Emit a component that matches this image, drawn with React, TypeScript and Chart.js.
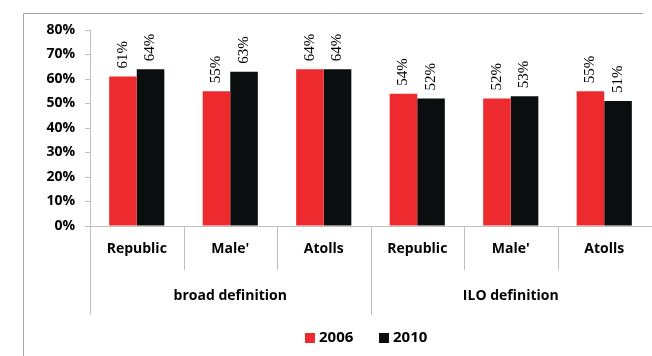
import React, { useEffect, useRef } from "react";
import { Chart, registerables } from "chart.js";

Chart.register(...registerables);

const categories = ["Republic", "Male'", "Atolls", "Republic", "Male'", "Atolls"];
const groups = ["broad definition", "ILO definition"];
const series2006 = [61, 55, 64, 54, 52, 55];
const series2010 = [64, 63, 64, 52, 53, 51];
const seriesNames = ["2006", "2010"];
const colors = ["#ED2B2F", "#0A0E0E"];

const LABEL_FONT = "'Open Sans', 'DejaVu Sans', sans-serif";

const decorPlugin = {
  id: "decor",
  beforeDraw(chart: any) {
    const ctx = chart.ctx;
    ctx.save();
    ctx.strokeStyle = "#a6a6a6";
    ctx.lineWidth = 1;
    ctx.beginPath();
    ctx.moveTo(23.5, 13.5);
    ctx.lineTo(643, 13.5);
    ctx.moveTo(23.5, 13.5);
    ctx.lineTo(23.5, 356);
    ctx.stroke();
    ctx.restore();
  },
  afterDraw(chart: any) {
    const ctx = chart.ctx;
    const x = chart.scales.x;
    const area = chart.chartArea;
    const n = categories.length;
    const step = (area.right - area.left) / n;
    ctx.save();
    ctx.strokeStyle = "#bfbfbf";
    ctx.lineWidth = 1;
    ctx.beginPath();
    ctx.moveTo(Math.round(area.left) + 0.5, area.bottom);
    ctx.lineTo(Math.round(area.left) + 0.5, 315);
    for (let i = 1; i < n; i++) {
      const bx = Math.round(area.left + step * i) + 0.5;
      ctx.moveTo(bx, area.bottom);
      ctx.lineTo(bx, i === 3 ? 315 : 270);
    }
    ctx.stroke();
    ctx.fillStyle = "#000";
    ctx.font = "bold 14px " + LABEL_FONT;
    ctx.textAlign = "center";
    ctx.textBaseline = "middle";
    const g0 = (x.getPixelForValue(0) + x.getPixelForValue(2)) / 2;
    const g1 = (x.getPixelForValue(3) + x.getPixelForValue(5)) / 2;
    ctx.fillText(groups[0], g0, 296);
    ctx.fillText(groups[1], g1, 296);
    ctx.textAlign = "left";
    const items = [
      { x: 305, label: seriesNames[0], color: colors[0] },
      { x: 379, label: seriesNames[1], color: colors[1] },
    ];
    ctx.font = "bold 15px " + LABEL_FONT;
    items.forEach((it) => {
      ctx.fillStyle = it.color;
      ctx.fillRect(it.x, 333, 10, 10);
      ctx.fillStyle = "#000";
      ctx.fillText(it.label, it.x + 14, 338);
    });
    ctx.restore();
  },
  afterDatasetsDraw(chart: any) {
    const ctx = chart.ctx;
    ctx.save();
    ctx.fillStyle = "#000";
    ctx.font = "15px 'Liberation Serif', 'DejaVu Serif', serif";
    ctx.textAlign = "left";
    ctx.textBaseline = "middle";
    chart.data.datasets.forEach((ds: any, di: number) => {
      const meta = chart.getDatasetMeta(di);
      meta.data.forEach((el: any, i: number) => {
        ctx.save();
        ctx.translate(el.x, el.y - 8);
        ctx.rotate(-Math.PI / 2);
        ctx.fillText(ds.data[i] + "%", 0, 0);
        ctx.restore();
      });
    });
    ctx.restore();
  },
};

export default function App() {
  const ref = useRef<HTMLCanvasElement>(null);
  useEffect(() => {
    document.body.style.margin = "0";
    const chart = new Chart(ref.current!, {
      type: "bar",
      data: {
        labels: categories,
        datasets: [
          { label: seriesNames[0], data: series2006, backgroundColor: colors[0] },
          { label: seriesNames[1], data: series2010, backgroundColor: colors[1] },
        ],
      },
      options: {
        animation: false,
        responsive: false,
        maintainAspectRatio: false,
        layout: { padding: { top: 30, right: 1, left: 0, bottom: 0 } },
        plugins: { legend: { display: false }, tooltip: { enabled: false }, title: { display: false } },
        datasets: { bar: { categoryPercentage: 0.59, barPercentage: 1 } },
        scales: {
          x: {
            grid: { display: false, drawTicks: false },
            border: { color: "#bfbfbf" },
            ticks: {
              color: "#000",
              font: { family: LABEL_FONT, size: 14, weight: "bold" },
              padding: 15,
              maxRotation: 0,
              autoSkip: false,
            },
            afterFit: (s: any) => {
              s.height = 130;
            },
          },
          y: {
            min: 0,
            max: 80,
            grid: { drawOnChartArea: false, tickLength: 5, color: "#bfbfbf" },
            border: { color: "#bfbfbf" },
            ticks: {
              stepSize: 10,
              color: "#000",
              font: { family: LABEL_FONT, size: 14, weight: "bold" },
              padding: 10,
              callback: (v: any) => v + "%",
            },
            afterFit: (s: any) => {
              s.width = 90;
            },
          },
        },
      },
      plugins: [decorPlugin],
    });
    return () => chart.destroy();
  }, []);
  return (
    <div style={{ width: 652, height: 356 }}>
      <canvas ref={ref} width={652} height={356} style={{ display: "block" }} />
    </div>
  );
}
